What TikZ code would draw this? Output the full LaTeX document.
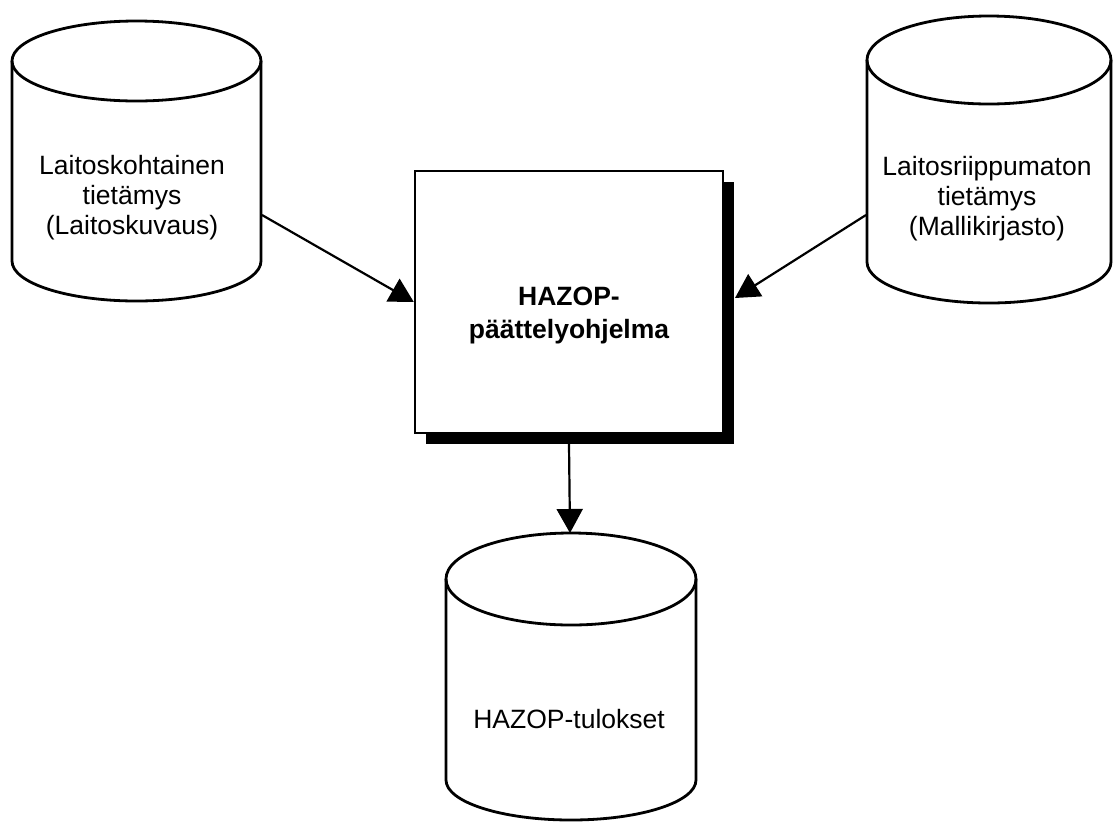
\documentclass[tikz,border=0pt]{standalone}
\usepackage{fontspec}
\setmainfont{Liberation Sans}
\usetikzlibrary{arrows.meta}
\tikzset{
  cylline/.style={line width=2.8pt, line join=round},
  flow/.style={line width=2.2pt, -{Triangle[length=24pt,width=26pt]}},
  cyltext/.style={align=center, font=\fontsize{26.5pt}{30pt}\selectfont, inner sep=0pt},
  boxtext/.style={align=center, font=\fontsize{26.5pt}{33pt}\selectfont\bfseries, inner sep=0pt},
  procbox/.style={draw, line width=2.4pt, fill=white, minimum width=308pt, minimum height=262pt, inner sep=0pt},
  shadowbox/.style={fill=black, minimum width=308pt, minimum height=262pt, inner sep=0pt}
}
\begin{document}
\begin{tikzpicture}[x=1pt, y=-1pt]
\useasboundingbox (0,0) rectangle (1114,823);

% left store
\draw[cylline] (12,61) -- (12,261) arc[start angle=180, end angle=0, x radius=124.5, y radius=40] -- (261,61);
\draw[cylline] (136.5,61) ellipse[x radius=124.5, y radius=40];
\node[cyltext] (lefttext) at (132,198) {Laitoskohtainen\\tietämys\\(Laitoskuvaus)};
\coordinate (leftout) at (262,215);

% right store
\draw[cylline] (867,60) -- (867,262) arc[start angle=180, end angle=0, x radius=122, y radius=41] -- (1111,60);
\draw[cylline] (989,60) ellipse[x radius=122, y radius=44];
\node[cyltext] (righttext) at (987,199) {Laitosriippumaton\\tietämys\\(Mallikirjasto)};
\coordinate (rightout) at (866,215);

% result store
\draw[cylline] (446,579) -- (446,780) arc[start angle=180, end angle=0, x radius=125, y radius=40] -- (696,579);
\draw[cylline] (571,579) ellipse[x radius=125, y radius=46];
\node[cyltext] (bottomtext) at (569,719) {HAZOP-tulokset};
\coordinate (bottomin) at (570,533);

% inference program with drop shadow
\node[shadowbox] (shadow) at (580,313) {};
\node[procbox] (box) at (569,302) {};
\node[boxtext] (boxlabel) at (569,315) {HAZOP-\\päättelyohjelma};
\coordinate (rightin) at (735,298);

% data flows
\draw[flow] (leftout) -- (box.west);
\draw[flow] (rightout) -- (rightin);
\draw[flow] (box.south |- shadow.south) -- (bottomin);
\end{tikzpicture}
\end{document}
